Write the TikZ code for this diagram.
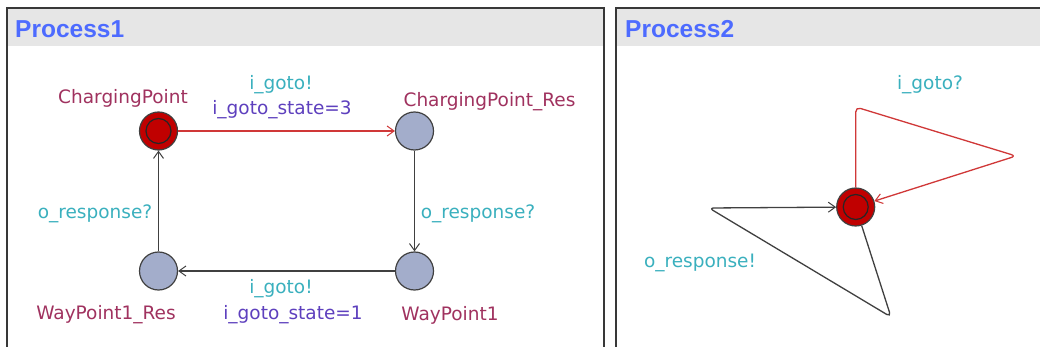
\documentclass[tikz,border=0pt]{standalone}
\usepackage{fontspec}
\setmainfont{DejaVu Sans}
\newfontfamily\hdrfont{Liberation Sans}
\usetikzlibrary{arrows.meta}
\definecolor{ttlblue}{HTML}{4D6BFF}
\definecolor{hdrgray}{HTML}{E6E6E6}
\definecolor{frame}{HTML}{383838}
\definecolor{locname}{HTML}{A0325F}
\definecolor{synccol}{HTML}{3AB0BE}
\definecolor{updcol}{HTML}{5E40BE}
\definecolor{locfill}{HTML}{A3ADCB}
\definecolor{initfill}{HTML}{C00000}
\definecolor{rededge}{HTML}{D03838}
\definecolor{blkedge}{HTML}{404040}
\tikzset{
  panelframe/.style={draw=frame, line width=2pt},
  headerband/.style={fill=hdrgray, draw=none},
  paneltitle/.style={font=\hdrfont\bfseries\fontsize{24.5}{26}\selectfont, text=ttlblue, anchor=west, inner sep=0pt},
  loc/.style={circle, minimum size=38pt, inner sep=0pt, draw=blkedge, line width=1.2pt, fill=locfill},
  initloc/.style={loc, fill=initfill,
    path picture={\draw[line width=1.2pt, black!85] (path picture bounding box.center) circle (12.5pt);}},
  lbl/.style={font=\fontsize{18.5}{20}\selectfont, inner sep=0pt},
  namelbl/.style={lbl, text=locname},
  synclbl/.style={lbl, text=synccol},
  updlbl/.style={lbl, text=updcol},
  edgearrow/.style={-{Straight Barb[length=7pt,width=10pt,line width=1pt]}, line width=1.3pt},
  redge/.style={edgearrow, draw=rededge},
  bedge/.style={edgearrow, draw=blkedge},
}
\begin{document}
\begin{tikzpicture}[x=1pt,y=-1pt]
\useasboundingbox (0,0) rectangle (1040,347);
\fill[white] (0,0) rectangle (1040,347);
% panel 1
\fill[headerband] (7,8) rectangle (604,46);
\draw[panelframe] (7,347) -- (7,8) -- (604,8) -- (604,347);
\node[paneltitle] (t1) at (15,29) {Process1};
% panel 2
\fill[headerband] (616,8) rectangle (1040,46);
\draw[panelframe] (616,347) -- (616,8) -- (1041,8);
\node[paneltitle] (t2) at (625,29) {Process2};

% Process1 locations
\node[initloc] (cp) at (158.5,131) {};
\node[loc] (cpr) at (414.5,131) {};
\node[loc] (wp1) at (414.5,271) {};
\node[loc] (wp1r) at (158.5,271) {};

\node[namelbl] (cpn) at (123,98) {ChargingPoint};
\node[namelbl] (cprn) at (489.5,102) {ChargingPoint\_Res};
\node[namelbl] (wp1rn) at (106,315) {WayPoint1\_Res};
\node[namelbl] (wp1n) at (450,315) {WayPoint1};

\draw[redge] (cp) -- (cpr);
\draw[bedge] (cpr) -- (wp1);
\draw[bedge] (wp1) -- (wp1r);
\draw[bedge] (wp1r) -- (cp);

\node[synclbl] (s1) at (281,85) {i\_goto!};
\node[updlbl] (u1) at (282,110) {i\_goto\_state=3};
\node[synclbl] (s2) at (478,214) {o\_response?};
\node[synclbl] (s3) at (281,289) {i\_goto!};
\node[updlbl] (u3) at (293,315) {i\_goto\_state=1};
\node[synclbl] (s4) at (95,214) {o\_response?};

% Process2
\node[initloc] (p2) at (855.7,207) {};
\coordinate (r1) at (855.7,107);
\coordinate (r2) at (1016,156);
\coordinate (b1) at (891,317);
\coordinate (b2) at (709,208);
\draw[redge, rounded corners=5pt] (p2) -- (r1) -- (r2) -- (p2);
\draw[bedge, rounded corners=5pt] (p2) -- (b1) -- (b2) -- (p2);
\node[synclbl] (s5) at (930,85) {i\_goto?};
\node[synclbl] (s6) at (700,263) {o\_response!};
\end{tikzpicture}
\end{document}
